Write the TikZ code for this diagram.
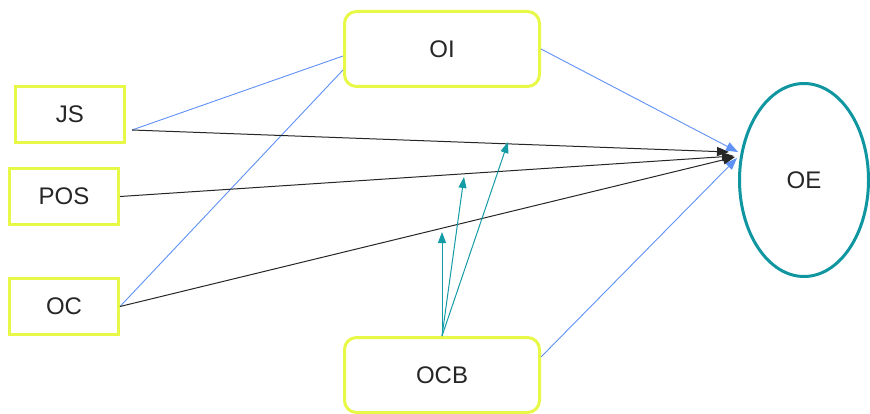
\documentclass[tikz,border=0pt]{standalone}
\usepackage{fontspec}
\setmainfont{Liberation Sans}
\usetikzlibrary{arrows.meta,shapes.geometric}
\definecolor{boxyellow}{RGB}{232,248,70}
\definecolor{lineblue}{RGB}{95,145,245}
\definecolor{teal2}{RGB}{20,155,165}
\definecolor{tealring}{RGB}{15,150,160}
\begin{document}
\begin{tikzpicture}[x=1pt,y=-1pt,
  every node/.style={font=\fontsize{24}{28}\selectfont, text=black!85},
  sqbox/.style={draw=boxyellow, line width=3pt, fill=white, minimum width=109pt, minimum height=56pt, inner sep=0pt},
  rbox/.style={draw=boxyellow, line width=3pt, fill=white, rounded corners=12pt, minimum width=195pt, minimum height=75pt, inner sep=0pt},
  oval/.style={ellipse, draw=tealring, line width=3pt, fill=white, minimum width=129pt, minimum height=193pt, inner sep=0pt},
  blk/.style={draw=black!85, line width=1pt, -{Triangle[length=12pt,width=9pt]}},
  bl/.style={draw=lineblue, line width=0.9pt},
  blarr/.style={bl, -{Triangle[length=12pt,width=9pt]}},
  tl/.style={draw=teal2, line width=1pt, -{Triangle[length=11pt,width=8pt]}}
]
\useasboundingbox (0,0) rectangle (870,414);
\node[sqbox] (JS) at (70,114.5) {JS};
\node[sqbox] (POS) at (64,196.5) {POS};
\node[sqbox] (OC) at (64,306.5) {OC};
\node[rbox] (OI) at (442,49) {OI};
\node[rbox] (OCB) at (442,375) {OCB};
\node[oval] (OE) at (804,180) {OE};

\coordinate (jsout) at (132,130);
\coordinate (tA) at (729,152);
\coordinate (tB) at (734,156);
\coordinate (tC) at (735,157);
\coordinate (tD) at (738,152);
\coordinate (tE) at (737,158);
\coordinate (m1) at (442,232);
\coordinate (m2) at (464,177);
\coordinate (m3) at (508,142);

\draw[bl] (jsout) -- ([yshift=-7pt]OI.west);
\draw[bl] (OC.east) -- ([yshift=-21pt]OI.west);
\draw[blarr] (OI.east) -- (tD);
\draw[blarr] ([yshift=18pt]OCB.east) -- (tE);
\draw[blk] (jsout) -- (tA);
\draw[blk] (POS.east) -- (tB);
\draw[blk] (OC.east) -- (tC);
\draw[tl] (OCB.north) -- (m1);
\draw[tl] (OCB.north) -- (m2);
\draw[tl] (OCB.north) -- (m3);
\end{tikzpicture}
\end{document}
